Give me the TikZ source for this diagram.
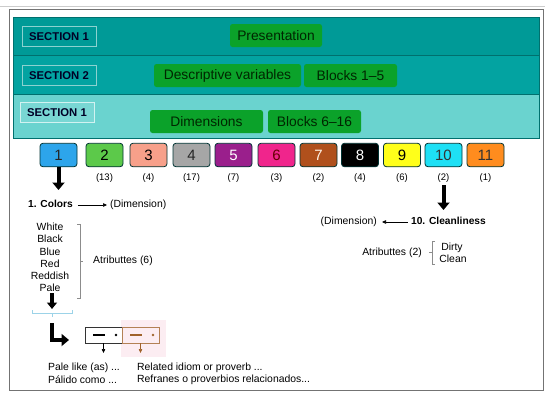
\documentclass[tikz,border=0pt]{standalone}
\usepackage{fontspec}
\setmainfont{Liberation Sans}
\usetikzlibrary{arrows.meta,calc}
\definecolor{bandA}{HTML}{009A97}
\definecolor{bandB}{HTML}{03A3A1}
\definecolor{bandC}{HTML}{6AD3CF}
\definecolor{bandline}{HTML}{00706E}
\definecolor{gbox}{HTML}{0BA22A}
\definecolor{c1}{HTML}{2DA5EB}
\definecolor{c2}{HTML}{5CC94A}
\definecolor{c3}{HTML}{F7A08A}
\definecolor{c4}{HTML}{A6A6A6}
\definecolor{c5}{HTML}{9A1F8C}
\definecolor{c6}{HTML}{F0258C}
\definecolor{c7}{HTML}{B0501C}
\definecolor{c8}{HTML}{000000}
\definecolor{c9}{HTML}{FFFF1A}
\definecolor{c10}{HTML}{1EE0F5}
\definecolor{c11}{HTML}{FF8C1E}
\definecolor{brownline}{HTML}{A0622A}
\definecolor{pinkbg}{HTML}{FCEDF2}
\definecolor{bracketblue}{HTML}{9CD3E8}
\tikzset{
  seclabel/.style={draw=white!55!bandA, line width=0.9pt, minimum width=74pt, minimum height=20pt, inner sep=0pt, font=\fontsize{11.3}{13}\selectfont\bfseries, text=black!85!blue},
  greenbox/.style={fill=gbox, rounded corners=2.5pt, minimum height=23pt, inner sep=0pt, font=\fontsize{13.8}{15}\selectfont, text=black!85!green},
  numbox/.style={draw=black!60!teal, line width=0.8pt, rounded corners=3pt, minimum width=37pt, minimum height=23.5pt, inner sep=0pt, font=\fontsize{15}{17}\selectfont},
  count/.style={font=\fontsize{9.5}{11}\selectfont, inner sep=0pt},
  txt/.style={font=\fontsize{10.4}{12}\selectfont, inner sep=0pt},
  btxt/.style={font=\fontsize{10.2}{12}\selectfont\bfseries, inner sep=0pt},
  bigarrow/.style={line width=4pt, -{Triangle[width=12pt,length=7.5pt]}},
  thinarrow/.style={line width=0.6pt, -{Triangle[width=3.5pt,length=4pt]}},
  minibox/.style={minimum width=37pt, minimum height=16pt, inner sep=0pt, line width=0.8pt},
}
\begin{document}
\begin{tikzpicture}[x=1pt,y=-1pt]
\useasboundingbox (0,0) rectangle (550,397);
% top faint line and outer frame
\draw[black!20, line width=0.8pt] (0,6) -- (545,6);
\draw[black!55, line width=0.9pt] (9.5,9.5) rectangle (543.5,390);
% bands
\fill[bandA] (13,17) rectangle (539,55.7);
\fill[bandB] (13,55.7) rectangle (539,94.3);
\fill[bandC] (13,94.3) rectangle (539,138);
\draw[bandline, line width=0.8pt] (13,17) rectangle (539,138);
\draw[bandline, line width=0.8pt] (13,55.7) -- (539,55.7);
\draw[bandline, line width=0.8pt] (13,94.3) -- (539,94.3);
% section labels
\node[seclabel, fill=bandA] (s1) at (59,36.7) {SECTION 1};
\node[seclabel, fill=bandB] (s2) at (59,75.3) {SECTION 2};
\node[seclabel, fill=bandC!90!white, draw=white!70!bandC] (s3) at (57,112.5) {SECTION 1};
% green boxes
\node[greenbox, minimum width=92pt] (pres) at (276,35.5) {Presentation};
\node[greenbox, minimum width=147pt] (desc) at (227.5,75.5) {Descriptive variables};
\node[greenbox, minimum width=93pt] (bl15) at (350.5,75.5) {Blocks 1--5};
\node[greenbox, minimum width=113pt] (dims) at (206.5,121.5) {Dimensions};
\node[greenbox, minimum width=93pt] (bl616) at (314.5,121.5) {Blocks 6--16};
% number boxes
\node[numbox, fill=c1, text=black!85] (b1) at (58.5,155) {1};
\node[numbox, fill=c2, text=black] (b2) at (104.5,155) {2};
\node[numbox, fill=c3, text=black] (b3) at (148.5,155) {3};
\node[numbox, fill=c4, text=black!85] (b4) at (191.5,155) {4};
\node[numbox, fill=c5, text=white] (b5) at (233.5,155) {5};
\node[numbox, fill=c6, text=black!60!red] (b6) at (276.5,155) {6};
\node[numbox, fill=c7, text=white!90!orange] (b7) at (318.5,155) {7};
\node[numbox, fill=c8, text=white] (b8) at (360,155) {8};
\node[numbox, fill=c9, text=black] (b9) at (402,155) {9};
\node[numbox, fill=c10, text=black!80] (b10) at (443.5,155) {10};
\node[numbox, fill=c11, text=black!80] (b11) at (485.5,155) {11};
% counts
\node[count] (n2) at (104.5,178) {(13)};
\node[count] (n3) at (148.5,178) {(4)};
\node[count] (n4) at (191.5,178) {(17)};
\node[count] (n5) at (233.5,178) {(7)};
\node[count] (n6) at (276.5,178) {(3)};
\node[count] (n7) at (318.5,178) {(2)};
\node[count] (n8) at (360,178) {(4)};
\node[count] (n9) at (402,178) {(6)};
\node[count] (n10) at (443.5,178) {(2)};
\node[count] (n11) at (485.5,178) {(1)};
% left branch
\node[btxt, anchor=west] (colors) at (28,204) {1. Colors};
\node[txt, anchor=west] (dimL) at (110,205) {(Dimension)};
\coordinate (a1end) at (58.5,190);
\draw[bigarrow] (b1.south) -- (a1end);
\draw[thinarrow, shorten >=3pt] ($(colors.east)+(5,1)$) -- (dimL.west);
\node[txt] (w1) at (50,227) {White};
\node[txt] (w2) at (50,239.2) {Black};
\node[txt] (w3) at (50,251.4) {Blue};
\node[txt] (w4) at (50,263.6) {Red};
\node[txt] (w5) at (50,275.8) {Reddish};
\node[txt] (w6) at (50,288) {Pale};
\draw[black!45, line width=0.6pt] (77,224) -- (80,224) -- (80,298) -- (77,298);
\draw[black!45, line width=0.6pt] (80,261) -- (83,261);
\node[txt, anchor=west] (attr6) at (93,261) {Atributtes (6)};
\coordinate (a2end) at (52,309);
\draw[bigarrow, line width=3.6pt, -{Triangle[width=10pt,length=6.5pt]}] (w6.south -| a2end) ++(0,1) -- (a2end);
\draw[bracketblue, line width=0.7pt] (32,310) -- (32,313) -- (72,313) -- (72,310);
\draw[bracketblue, line width=0.7pt] (52,313) -- (52,317);
\coordinate (lstart) at (52,323);
\coordinate (lend) at (69,340);
\draw[bigarrow, line width=4pt] (lstart) |- (lend);
% mini boxes
\fill[pinkbg] (121,320) rectangle (166,357);
\node[minibox, draw=black!80, fill=white] (m1) at (103.5,335) {};
\node[minibox, draw=brownline!80, fill=pinkbg] (m2) at (140.5,335) {};
\draw[black, line width=2.6pt] (93,335) -- (105,335);
\fill[black] (116,335) circle (1.4);
\draw[brownline, line width=2.6pt] (130,335) -- (142,335);
\fill[brownline] (153,335) circle (1.4);
\coordinate (m1e) at (103.5,353);
\coordinate (m2e) at (140.5,353);
\draw[thinarrow] (m1.south) -- (m1e);
\draw[thinarrow, brownline] (m2.south) -- (m2e);
\node[txt, anchor=west] (t1) at (48,367.5) {Pale like (as) ...};
\node[txt, anchor=west] (t2) at (48,379.5) {Pálido como ...};
\node[txt, anchor=west] (t3) at (137,367.5) {Related idiom or proverb ...};
\node[txt, anchor=west] (t4) at (137,379.5) {Refranes o proverbios relacionados...};
% right branch
\node[btxt, anchor=east] (clean) at (486,221) {10. Cleanliness};
\node[txt, anchor=east] (dimR) at (377,222) {(Dimension)};
\coordinate (a3start) at (443.5,185);
\coordinate (a3end) at (443.5,210);
\draw[bigarrow] (a3start) -- (a3end);
\draw[thinarrow, shorten >=5pt] ($(clean.west)+(-3,1)$) -- (dimR.east);
\node[txt, anchor=east] (attr2) at (422,252.5) {Atributtes (2)};
\draw[black!45, line width=0.6pt] (435,241) -- (432,241) -- (432,264) -- (435,264);
\draw[black!45, line width=0.6pt] (432,252.5) -- (429,252.5);
\node[txt] (dirty) at (452,247.5) {Dirty};
\node[txt] (cln) at (453,259) {Clean};
\end{tikzpicture}
\end{document}
